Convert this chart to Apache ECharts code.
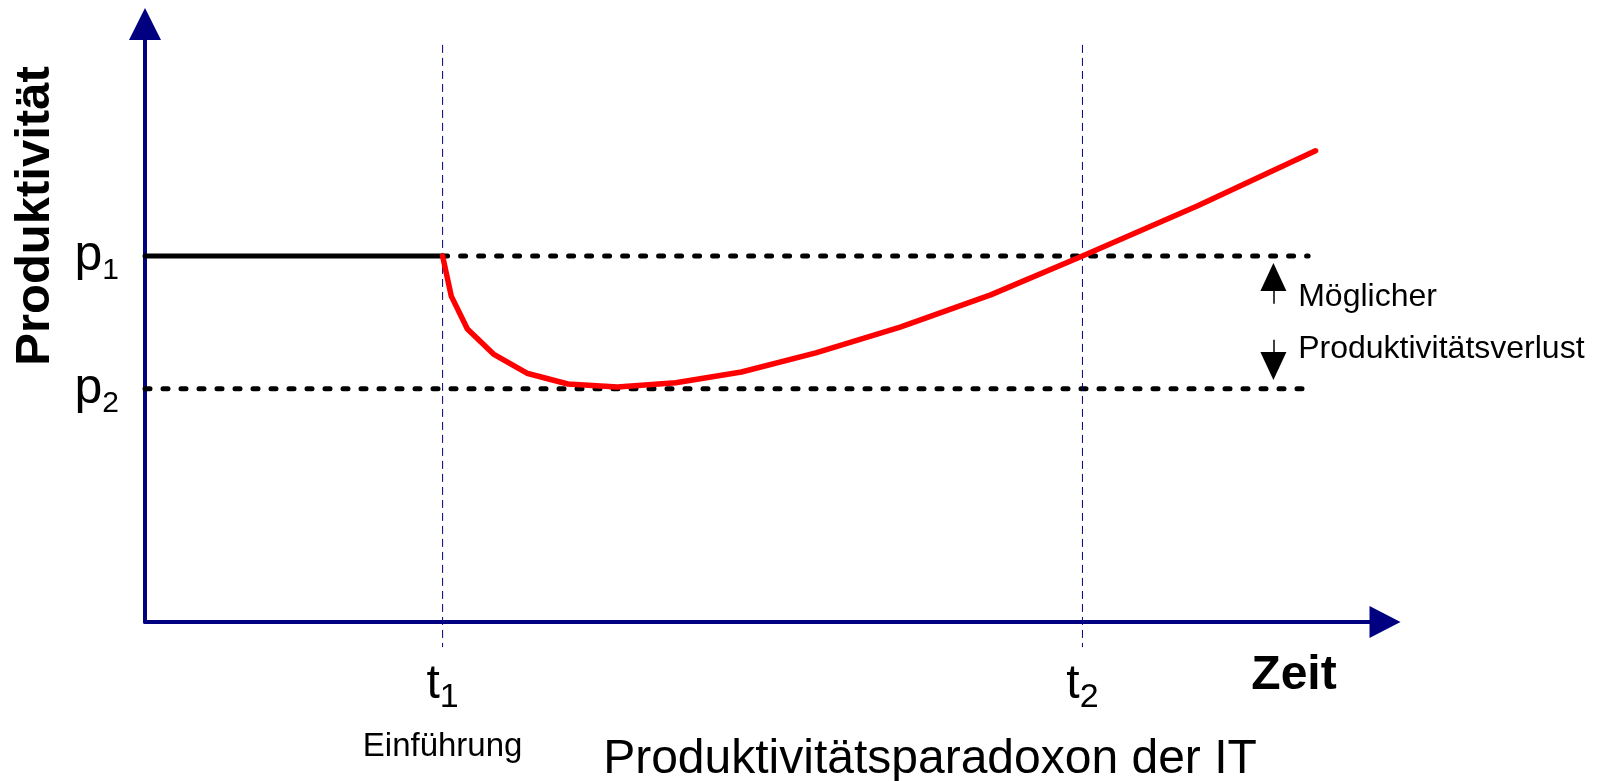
<!DOCTYPE html>
<html>
<head>
<meta charset="utf-8">
<script src="https://cdn.jsdelivr.net/npm/echarts@6/dist/echarts.min.js"></script>
<style>
  html, body { margin: 0; padding: 0; background: #fff; }
  #chart { width: 1610px; height: 781px; }
</style>
</head>
<body>
<div id="chart"></div>
<script>
// ---- data (abstract units: time 0..10, productivity 0..10) ----
const xRange = [0, 10];
const yRange = [0, 10];
const t1 = 2.4;            // Einführung
const t2 = 7.56;
const p1 = 6.12;
const p2 = 3.9;
const refLineEnd = 9.38;   // where the dotted p-lines stop
const guideTop = 9.65;     // dashed t-guides
const guideBottom = -0.42;
const curveX = [2.4, 2.47, 2.6, 2.81, 3.08, 3.41, 3.81, 4.28, 4.81, 5.41, 6.09, 6.82, 7.56, 8.49, 9.44];
const curveY = [6.12, 5.45, 4.90, 4.48, 4.16, 3.98, 3.93, 4.00, 4.18, 4.50, 4.93, 5.47, 6.12, 6.96, 7.88];
const xTickLabels = ['t', 't'];
const xTickSubs = ['1', '2'];
const yTickLabels = ['p', 'p'];
const ySubs = ['2', '1'];
const arrowX = 9.1;
const upArrow = [5.32, 5.77];
const downArrow = [4.72, 4.28];
const noteX = 9.3;
const noteY = [5.44, 4.57];
const noteText = ['Möglicher', 'Produktivitätsverlust'];
const subtitleT1 = 'Einführung';
const xName = 'Zeit';
const yName = 'Produktivität';
const chartTitle = 'Produktivitätsparadoxon der IT';

const FONT = "'Liberation Sans', Arial, Helvetica, sans-serif";
const NAVY = '#000080';

const chart = echarts.init(document.getElementById('chart'), null, { renderer: 'canvas' });

const curveData = curveX.map((x, i) => [x, curveY[i]]);

const option = {
  animation: false,
  backgroundColor: '#ffffff',
  textStyle: { fontFamily: FONT },
  grid: { left: 145, top: 24, width: 1240, height: 598, containLabel: false, outerBoundsMode: 'none' },
  xAxis: {
    type: 'value', min: xRange[0], max: xRange[1],
    splitLine: { show: false },
    axisTick: { show: false },
    axisLine: { show: true, onZero: false, lineStyle: { color: NAVY, width: 4 }, symbol: ['none', 'triangle'], symbolSize: [32, 31] },
    name: xName, nameLocation: 'end', nameGap: -91,
    nameTextStyle: { fontFamily: FONT, fontSize: 48, fontWeight: 'bold', color: '#000', align: 'center', verticalAlign: 'top', padding: [30, 0, 0, 0] },
    axisLabel: {
      show: true, customValues: [t1, t2], margin: 33, color: '#000',
      formatter: function (v) {
        const i = Math.abs(v - t1) < 1e-9 ? 0 : 1;
        let s = '{t|' + xTickLabels[i] + '}{s|' + xTickSubs[i] + '}';
        if (i === 0) s += '\n{e|' + subtitleT1 + '}';
        return s;
      },
      rich: {
        t: { fontFamily: FONT, fontSize: 48, lineHeight: 60, color: '#000' },
        s: { fontFamily: FONT, fontSize: 34, lineHeight: 40, verticalAlign: 'bottom', color: '#000' },
        e: { fontFamily: FONT, fontSize: 33, lineHeight: 64, color: '#000' }
      }
    }
  },
  yAxis: {
    type: 'value', min: yRange[0], max: yRange[1],
    splitLine: { show: false },
    axisTick: { show: false },
    axisLine: { show: true, onZero: false, lineStyle: { color: NAVY, width: 4 }, symbol: ['none', 'triangle'], symbolSize: [32, 32] },
    axisLabel: {
      show: true, customValues: [p2, p1], margin: 26, color: '#000',
      formatter: function (v) {
        const i = Math.abs(v - p2) < 1e-9 ? 0 : 1;
        return '{p|' + yTickLabels[i] + '}{s|' + ySubs[i] + '}';
      },
      rich: {
        p: { fontFamily: FONT, fontSize: 50, lineHeight: 60, color: '#000' },
        s: { fontFamily: FONT, fontSize: 30, lineHeight: 26, verticalAlign: 'bottom', color: '#000' }
      }
    }
  },
  graphic: [
    {
      type: 'text', x: 35, y: 216, rotation: Math.PI / 2, silent: true,
      style: { text: yName, fontFamily: FONT, fontSize: 49, fontWeight: 'bold', fill: '#000', align: 'center', verticalAlign: 'middle' }
    },
    {
      type: 'text', x: 930, y: 760, silent: true,
      style: { text: chartTitle, fontFamily: FONT, fontSize: 48, fill: '#000', align: 'center', verticalAlign: 'middle' }
    }
  ],
  series: [
    { // dotted p1 line
      type: 'line', silent: true, symbol: 'none', z: 2,
      data: [[t1, p1], [refLineEnd, p1]],
      lineStyle: { color: '#000', width: 5, type: [5, 13], cap: 'round' }
    },
    { // dotted p2 line
      type: 'line', silent: true, symbol: 'none', z: 2,
      data: [[xRange[0], p2], [refLineEnd, p2]],
      lineStyle: { color: '#000', width: 5, type: [5, 13], cap: 'round' }
    },
    { // t1 guide
      type: 'line', silent: true, symbol: 'none', clip: false, z: 3,
      data: [[t1, guideTop], [t1, guideBottom]],
      lineStyle: { color: NAVY, width: 1, type: [8, 5] }
    },
    { // t2 guide
      type: 'line', silent: true, symbol: 'none', clip: false, z: 3,
      data: [[t2, guideTop], [t2, guideBottom]],
      lineStyle: { color: NAVY, width: 1, type: [8, 5] }
    },
    { // constant productivity before introduction
      type: 'line', silent: true, symbol: 'none', z: 4,
      data: [[xRange[0], p1], [t1, p1]],
      lineStyle: { color: '#000', width: 5, cap: 'round' }
    },
    { // productivity after introduction
      type: 'line', silent: true, symbol: 'none', z: 5,
      data: curveData,
      lineStyle: { color: '#ff0000', width: 5.5, cap: 'round', join: 'round' }
    },
    { // loss arrows
      type: 'line', silent: true, symbol: 'none', data: [], z: 4,
      markLine: {
        silent: true, animation: false,
        symbol: ['none', 'triangle'], symbolSize: [26, 28],
        label: { show: false },
        lineStyle: { color: '#000', width: 1.5, type: 'solid', opacity: 1 },
        itemStyle: { color: '#000' },
        emphasis: { disabled: true },
        data: [
          [{ coord: [arrowX, upArrow[0]] }, { coord: [arrowX, upArrow[1]] }],
          [{ coord: [arrowX, downArrow[0]] }, { coord: [arrowX, downArrow[1]] }]
        ]
      }
    },
    { // annotation texts
      type: 'scatter', silent: true, symbolSize: 0, z: 6,
      itemStyle: { opacity: 1, color: '#000' },
      data: noteText.map((t, i) => ({ name: t, value: [noteX, noteY[i]] })),
      label: {
        show: true, position: [0, 0], align: 'left', verticalAlign: 'middle', opacity: 1,
        formatter: '{b}', fontFamily: FONT, fontSize: 32, color: '#000', textBorderWidth: 0
      }
    }
  ]
};

chart.setOption(option);
</script>
</body>
</html>
